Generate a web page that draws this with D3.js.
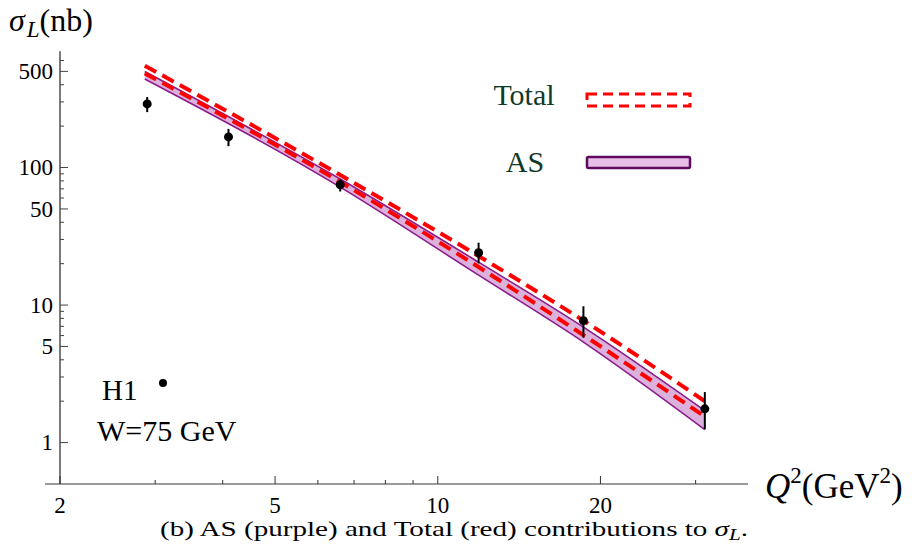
<!DOCTYPE html>
<html>
<head>
<meta charset="utf-8">
<script src="https://cdn.jsdelivr.net/npm/d3@7"></script>
<style>
  body { margin: 0; background: #fff; }
  svg { display: block; }
  text { font-family: "Liberation Serif", "Times New Roman", serif; }
</style>
</head>
<body>
<svg id="chart" width="912" height="555"></svg>
<script>
// H1 measurements of sigma_L at W = 75 GeV
const q2Data    = [2.9, 4.1, 6.6, 11.9, 18.6, 31.2];
const sigmaData = [290, 167, 75, 24.0, 7.7, 1.76];
const sigmaLow  = [253, 143, 67, 20.1, 5.8, 1.25];
const sigmaHigh = [326, 191, 82, 28.4, 9.8, 2.33];

// Model predictions (nb) on a Q^2 grid
const q2Curve    = [2.87, 6.6, 11.9, 18.6, 31.2];
const totalUpper = [550, 88.2, 22.7, 7.71, 2.00];
const totalLower = [484, 78.4, 18.9, 6.05, 1.546];
const asUpper    = [499, 82.5, 20.5, 6.92, 1.709];
const asLower    = [440, 72.1, 16.5, 5.38, 1.243];

// Axis ticks
const xMajorTicks = [2, 5, 10, 20];
const xMinorTicks = [3, 4, 6, 7, 8, 9, 30];
const yMajorTicks = [1, 5, 10, 50, 100, 500];
const yMinorTicks = [2, 3, 4, 6, 7, 8, 9, 20, 30, 40, 60, 70, 80, 90, 200, 300, 400, 600];

const svg = d3.select("#chart");

const x = d3.scaleLog().domain([2, 37.5]).range([60, 748]);
const y = d3.scaleLog().domain([0.5, 700]).range([484, 51.3]);

// ---- axes ----
const axes = svg.append("g");
axes.append("line")
  .attr("x1", x.range()[0] - 15).attr("x2", x.range()[1])
  .attr("y1", y.range()[0]).attr("y2", y.range()[0])
  .attr("stroke", "#7a7a7a").attr("stroke-width", 1.5);
axes.append("line")
  .attr("x1", x.range()[0]).attr("x2", x.range()[0])
  .attr("y1", y.range()[1]).attr("y2", y.range()[0])
  .attr("stroke", "#222").attr("stroke-width", 1.2);

// x ticks point up into the plot
axes.selectAll(".xmaj").data(xMajorTicks).join("line")
  .attr("x1", d => x(d)).attr("x2", d => x(d))
  .attr("y1", y.range()[0]).attr("y2", y.range()[0] - 8)
  .attr("stroke", "#333").attr("stroke-width", 1);
axes.selectAll(".xmin").data(xMinorTicks).join("line")
  .attr("x1", d => x(d)).attr("x2", d => x(d))
  .attr("y1", y.range()[0]).attr("y2", y.range()[0] - 4)
  .attr("stroke", "#333").attr("stroke-width", 1);
axes.selectAll(".xlab").data(xMajorTicks).join("text")
  .attr("x", d => x(d)).attr("y", 513)
  .attr("text-anchor", "middle")
  .attr("font-size", 23)
  .text(d => d);

// y ticks point right into the plot
axes.selectAll(".ymaj").data(yMajorTicks).join("line")
  .attr("x1", x.range()[0]).attr("x2", x.range()[0] + 8)
  .attr("y1", d => y(d)).attr("y2", d => y(d))
  .attr("stroke", "#444").attr("stroke-width", 1);
axes.selectAll(".ymin").data(yMinorTicks).join("line")
  .attr("x1", x.range()[0]).attr("x2", x.range()[0] + 4)
  .attr("y1", d => y(d)).attr("y2", d => y(d))
  .attr("stroke", "#444").attr("stroke-width", 1);
axes.selectAll(".ylab").data(yMajorTicks).join("text")
  .attr("x", 53).attr("y", d => y(d))
  .attr("dy", "0.34em")
  .attr("text-anchor", "end")
  .attr("font-size", 23)
  .text(d => d);

// ---- AS band ----
const asRows = q2Curve.map((q, i) => ({ q, hi: asUpper[i], lo: asLower[i] }));
const area = d3.area()
  .x(d => x(d.q)).y0(d => y(d.lo)).y1(d => y(d.hi))
  .curve(d3.curveMonotoneX);
svg.append("path").datum(asRows)
  .attr("d", area)
  .attr("fill", "#dcb2dc");

const lineOf = vals => d3.line()
  .x((q) => x(q)).y((q, i) => y(vals[i]))
  .curve(d3.curveMonotoneX)(q2Curve);

[asUpper, asLower].forEach(vals => {
  svg.append("path").attr("d", lineOf(vals))
    .attr("fill", "none").attr("stroke", "#8b1c8b").attr("stroke-width", 1.6);
});

// ---- Total band (dashed edges) ----
[totalUpper, totalLower].forEach(vals => {
  svg.append("path").attr("d", lineOf(vals))
    .attr("fill", "none").attr("stroke", "#ff0000")
    .attr("stroke-width", 4).attr("stroke-dasharray", "13,7");
});

// ---- data points ----
const pts = q2Data.map((q, i) => ({ q, s: sigmaData[i], lo: sigmaLow[i], hi: sigmaHigh[i] }));
const dataG = svg.append("g");
dataG.selectAll("line").data(pts).join("line")
  .attr("x1", d => x(d.q)).attr("x2", d => x(d.q))
  .attr("y1", d => y(d.lo)).attr("y2", d => y(d.hi))
  .attr("stroke", "#000").attr("stroke-width", 2);
dataG.selectAll("circle").data(pts).join("circle")
  .attr("cx", d => x(d.q)).attr("cy", d => y(d.s))
  .attr("r", 4.5).attr("fill", "#000");

// ---- legend ----
const legendInk = "#10392a";
svg.append("text").attr("x", 524).attr("y", 105)
  .attr("text-anchor", "middle").attr("font-size", 30).attr("fill", legendInk)
  .text("Total");
svg.append("rect").attr("x", 587).attr("y", 94).attr("width", 103).attr("height", 12)
  .attr("fill", "none").attr("stroke", "#ff0000").attr("stroke-width", 3)
  .attr("stroke-dasharray", "10,6");
svg.append("text").attr("x", 525).attr("y", 172)
  .attr("text-anchor", "middle").attr("font-size", 30).attr("fill", legendInk)
  .text("AS");
svg.append("rect").attr("x", 587).attr("y", 157).attr("width", 103).attr("height", 11)
  .attr("rx", 1.5)
  .attr("fill", "#e8bfe8").attr("stroke", "#5e0b5e").attr("stroke-width", 2.5);

// ---- experiment label ----
svg.append("text").attr("x", 102).attr("y", 400).attr("font-size", 29).text("H1");
svg.append("circle").attr("cx", 163).attr("cy", 383).attr("r", 4).attr("fill", "#000");
svg.append("text").attr("x", 97).attr("y", 441).attr("font-size", 30).text("W=75 GeV");

// ---- axis titles ----
const yTitle = svg.append("text").attr("x", 9).attr("y", 31).attr("font-size", 32);
yTitle.append("tspan").attr("font-style", "italic").text("σ");
yTitle.append("tspan").attr("font-style", "italic").attr("font-size", 23).attr("dx", 2).attr("dy", 6).text("L");
yTitle.append("tspan").attr("dy", -6).text("(nb)");

const xTitle = svg.append("text").attr("x", 765).attr("y", 498).attr("font-size", 35);
xTitle.append("tspan").attr("font-style", "italic").text("Q");
xTitle.append("tspan").attr("font-size", 23).attr("dy", -15).text("2");
xTitle.append("tspan").attr("dy", 15).text("(GeV");
xTitle.append("tspan").attr("font-size", 23).attr("dy", -15).text("2");
xTitle.append("tspan").attr("dy", 15).text(")");

// ---- caption ----
const cap = svg.append("text").attr("x", 160).attr("y", 536)
  .attr("font-size", 22)
  .attr("textLength", 588).attr("lengthAdjust", "spacingAndGlyphs");
cap.append("tspan").text("(b) AS (purple) and Total (red) contributions to ");
cap.append("tspan").attr("font-style", "italic").text("σ");
cap.append("tspan").attr("font-style", "italic").attr("font-size", 16).attr("dy", 4).text("L");
cap.append("tspan").attr("dy", -4).text(".");
</script>
</body>
</html>
